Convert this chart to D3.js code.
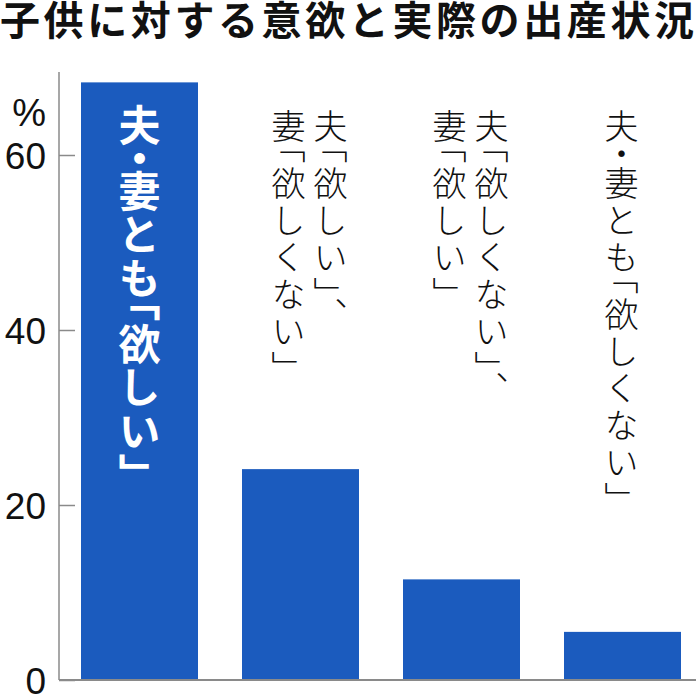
<!DOCTYPE html>
<html lang="ja">
<head>
<meta charset="UTF-8">
<title>子供に対する意欲と実際の出産状況</title>
<script src="https://d3js.org/d3.v7.min.js"></script>
<style>
    html, body { margin: 0; padding: 0; background: #fff; }
    svg { display: block; }
    .title { font-family: "Noto Sans CJK JP", sans-serif; font-weight: 700; }
    .axis text { font-family: "Liberation Sans", Arial, sans-serif; }
    .vlabel {
        font-family: "Noto Sans CJK JP", sans-serif;
        writing-mode: vertical-rl;
        text-orientation: upright;
        font-feature-settings: "vhal" 1;
    }
</style>
</head>
<body>
<svg id="chart" width="696" height="696"></svg>
<script>
    const titleText = "子供に対する意欲と実際の出産状況";
    const categories = ["both_want", "husband_want", "wife_want", "neither"];
    const values = [68.3, 24.1, 11.5, 5.5];
    const yTicks = [0, 20, 40, 60];
    // each category's label, split into vertical columns (right to left)
    const labelColumns = [
        ["夫・妻とも「欲しい」"],
        ["夫「欲しい」、", "妻「欲しくない」"],
        ["夫「欲しくない」、", "妻「欲しい」"],
        ["夫・妻とも「欲しくない」"]
    ];

    const svg = d3.select("#chart");
    const barColor = "#1b5bbe";
    const axisColor = "#8a8a8a";

    const x = d3.scaleBand()
        .domain(categories)
        .range([59, 703])
        .paddingInner(44 / 161)
        .paddingOuter(22 / 161);

    const y = d3.scaleLinear()
        .domain([0, 60])
        .range([680, 155]);

    // title
    svg.append("text")
        .attr("class", "title")
        .attr("x", 0)
        .attr("y", 35)
        .attr("font-size", 40)
        .attr("textLength", 694)
        .attr("lengthAdjust", "spacing")
        .attr("fill", "#111")
        .text(titleText);

    // bars
    svg.selectAll("rect.bar")
        .data(categories)
        .join("rect")
        .attr("class", "bar")
        .attr("x", d => x(d))
        .attr("y", (d, i) => y(values[i]))
        .attr("width", x.bandwidth())
        .attr("height", (d, i) => y(0) - y(values[i]))
        .attr("fill", barColor);

    // y axis
    const yAxis = d3.axisLeft(y)
        .tickValues(yTicks)
        .tickSize(-16)
        .tickPadding(13)
        .tickFormat(d3.format("d"));

    const gy = svg.append("g")
        .attr("class", "axis")
        .attr("transform", "translate(59,0)")
        .call(yAxis);
    gy.select(".domain").remove();
    gy.selectAll(".tick line").attr("stroke", axisColor).attr("stroke-width", 1.5);
    gy.selectAll(".tick text")
        .attr("font-size", 37)
        .attr("fill", "#111")
        .attr("dy", "0.36em");

    gy.append("line")
        .attr("x1", 0).attr("x2", 0)
        .attr("y1", 72).attr("y2", y(0))
        .attr("stroke", axisColor)
        .attr("stroke-width", 1.5);

    gy.append("text")
        .attr("x", -13)
        .attr("y", 126)
        .attr("text-anchor", "end")
        .attr("font-size", 38)
        .attr("fill", "#111")
        .text("%");

    // baseline
    svg.append("line")
        .attr("x1", 59).attr("x2", 696)
        .attr("y1", y(0)).attr("y2", y(0))
        .attr("stroke", axisColor)
        .attr("stroke-width", 2);

    // vertical labels
    const colOffsets = [[0], [30, -12], [30, -12], [-1]];
    categories.forEach((c, i) => {
        const cx = x(c) + x.bandwidth() / 2;
        labelColumns[i].forEach((txt, j) => {
            const first = i === 0;
            svg.append("text")
                .attr("class", "vlabel")
                .attr("x", cx + colOffsets[i][j])
                .attr("y", first ? 104 : 109)
                .attr("font-size", first ? 42 : 34)
                .attr("letter-spacing", first ? 1.5 : 3)
                .attr("font-weight", first ? 700 : 300)
                .attr("fill", first ? "#fff" : "#111")
                .text(txt);
        });
    });
</script>
</body>
</html>
